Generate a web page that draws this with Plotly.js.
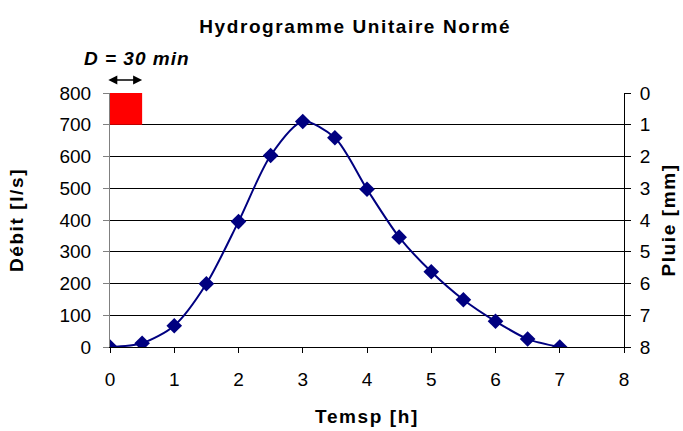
<!DOCTYPE html>
<html>
<head>
<meta charset="utf-8">
<script src="https://cdn.plot.ly/plotly-3.0.1.min.js"></script>
<style>
html,body{margin:0;padding:0;background:#fff;}
#chart{width:683px;height:431px;}
.gtitle{letter-spacing:1.6px;}
.xtitle,.ytitle,.y2title{letter-spacing:1.6px;}
.annotation-text{letter-spacing:1px;}
</style>
</head>
<body>
<div id="chart"></div>
<script>
const hours = [0, 0.5, 1, 1.5, 2, 2.5, 3, 3.5, 4, 4.5, 5, 5.5, 6, 6.5, 7];
const debit = [0, 12, 67, 199, 395, 603, 710, 659, 497, 346, 237, 149, 81, 25, 0];
const rainTime = [0.25];
const rainWidth = [0.5];
const rainMm = [1];
const xTicks = [0, 1, 2, 3, 4, 5, 6, 7, 8];
const yTicks = [0, 100, 200, 300, 400, 500, 600, 700, 800];
const y2Ticks = [0, 1, 2, 3, 4, 5, 6, 7, 8];

const font = "Liberation Sans, Arial, sans-serif";

const traces = [
  {
    type: 'bar', x: rainTime, y: rainMm, width: rainWidth, yaxis: 'y2',
    marker: {color: '#ff0000', line: {width: 0}}, hoverinfo: 'skip'
  },
  {
    type: 'scatter', mode: 'lines+markers', x: hours, y: debit,
    line: {color: '#000080', width: 2, shape: 'spline', smoothing: 0.8},
    marker: {symbol: 'diamond', size: 12, color: '#000080'}
  }
];

const layout = {
  width: 683, height: 431,
  margin: {l: 110, r: 59, t: 93, b: 84},
  paper_bgcolor: '#fff', plot_bgcolor: '#fff',
  showlegend: false,
  font: {family: font, color: '#000', size: 19},
  title: {text: '<b>Hydrogramme Unitaire Normé</b>', font: {family: font, size: 19, color: '#000'},
          x: 0.52, xanchor: 'center', y: 0.94, yanchor: 'middle'},
  xaxis: {
    range: [0, 8], tickvals: xTicks, ticks: 'outside', ticklen: 5, tickcolor: '#000',
    showline: true, linecolor: '#000', linewidth: 1, showgrid: false, zeroline: false,
    tickfont: {family: font, size: 19}, ticklabelstandoff: 10,
    title: {text: '<b>Temsp [h]</b>', font: {family: font, size: 19}, standoff: 20}
  },
  yaxis: {
    range: [0, 800], tickvals: yTicks, ticks: 'outside', ticklen: 6, tickcolor: '#808080',
    showline: true, linecolor: '#808080', linewidth: 1,
    showgrid: true, gridcolor: '#000', gridwidth: 1, zeroline: false,
    tickfont: {family: font, size: 19}, ticklabelstandoff: 8,
    title: {text: '<b>Débit [l/s]</b>', font: {family: font, size: 19}, standoff: 30}
  },
  yaxis2: {
    overlaying: 'y', side: 'right', range: [8, 0], tickvals: y2Ticks,
    ticks: 'outside', ticklen: 6, tickcolor: '#000',
    showline: true, linecolor: '#000', linewidth: 1, showgrid: false, zeroline: false,
    tickfont: {family: font, size: 19}, ticklabelstandoff: 5,
    title: {text: '<b>Pluie [mm]</b>', font: {family: font, size: 19}, standoff: 11}
  },
  annotations: [
    {
      x: 0.5, y: 1.051, xref: 'x', yref: 'paper', ax: -0.05, ay: 0, axref: 'x', ayref: 'pixel',
      showarrow: true, arrowhead: 2, startarrowhead: 2, arrowside: 'end+start',
      arrowsize: 1.2, arrowwidth: 1.5, arrowcolor: '#000', text: ''
    },
    {
      x: 0.42, y: 1.134, xref: 'x', yref: 'paper', showarrow: false,
      text: '<b><i>D = 30 min</i></b>', font: {family: font, size: 19, color: '#000'},
      xanchor: 'center', yanchor: 'middle'
    }
  ]
};

Plotly.newPlot('chart', traces, layout, {displayModeBar: false, staticPlot: true});
</script>
</body>
</html>
